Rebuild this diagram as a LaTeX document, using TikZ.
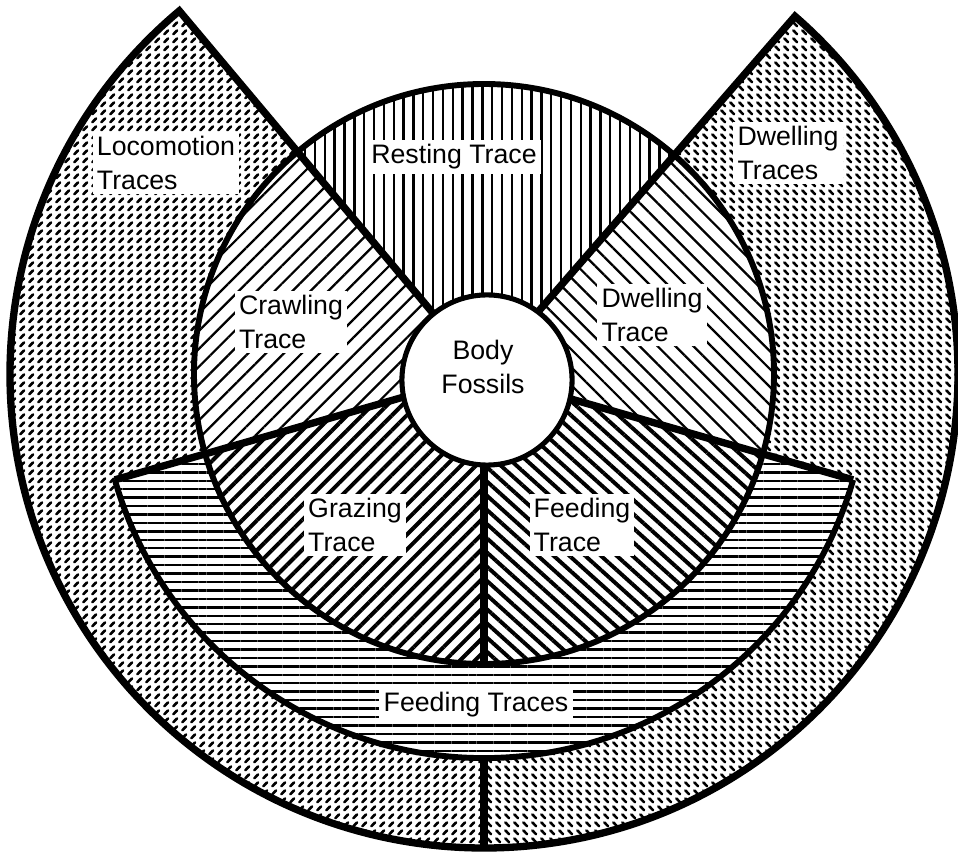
\documentclass[tikz,border=0pt]{standalone}
\usepackage{fontspec}
\setmainfont{Liberation Sans}
\usetikzlibrary{patterns, patterns.meta}

% short slanted dashes for the outer trace groups
\pgfdeclarepattern{
  name=tracedash,
  type=uncolored,
  bottom left={\pgfpoint{0pt}{0pt}},
  top right={\pgfpoint{6.4pt}{5.8pt}},
  tile size={\pgfpoint{6.4pt}{5.8pt}},
  code={
    \pgfsetlinewidth{1.9pt}\pgfsetroundcap
    \pgfpathmoveto{\pgfpoint{1.7pt}{1.4pt}}
    \pgfpathlineto{\pgfpoint{4.3pt}{4.4pt}}
    \pgfusepath{stroke}
  }
}
% the same, mirrored
\pgfdeclarepattern{
  name=tracedashb,
  type=uncolored,
  bottom left={\pgfpoint{0pt}{0pt}},
  top right={\pgfpoint{6.4pt}{5.8pt}},
  tile size={\pgfpoint{6.4pt}{5.8pt}},
  code={
    \pgfsetlinewidth{1.9pt}\pgfsetroundcap
    \pgfpathmoveto{\pgfpoint{1.7pt}{4.4pt}}
    \pgfpathlineto{\pgfpoint{4.3pt}{1.4pt}}
    \pgfusepath{stroke}
  }
}

\begin{document}
\begin{tikzpicture}[
    x=0.025cm, y=0.025cm,
    rim/.style={line width=4.2pt},
    spoke/.style={line width=5.2pt, line join=miter},
    tag/.style={fill=white, inner sep=3pt, align=left,
                font=\fontsize{19}{24}\selectfont},
    restfill/.style={pattern={Lines[angle=90, distance=7pt, line width=1.7pt]}},
    crawlfill/.style={pattern={Lines[angle=45, distance=9pt, line width=1.6pt]}},
    dwellfill/.style={pattern={Lines[angle=-45, distance=9pt, line width=1.6pt]}},
    grazefill/.style={pattern={Lines[angle=45, distance=7.5pt, line width=2.8pt]}},
    feedfill/.style={pattern={Lines[angle=-42, distance=7.5pt, line width=2.8pt]}},
    bandfill/.style={pattern={Lines[angle=0, distance=6pt, line width=1.7pt]}},
    locofill/.style={pattern=tracedash},
    homefill/.style={pattern=tracedashb}
]
  \useasboundingbox (-484,-478) rectangle (474,374);
  \coordinate (ctr) at (0,0);
  \coordinate (tipL) at (130:474);
  \coordinate (tipR) at (49:474);

  % inner ring: single traces
  \fill[restfill] (ctr) -- (49:290) arc[start angle=49, end angle=130, radius=290] -- cycle;
  \fill[crawlfill] (ctr) -- (130:290) arc[start angle=130, end angle=196, radius=290] -- cycle;
  \fill[grazefill] (ctr) -- (196:290) arc[start angle=196, end angle=270, radius=290] -- cycle;
  \fill[feedfill] (ctr) -- (270:290) arc[start angle=270, end angle=344, radius=290] -- cycle;
  \fill[dwellfill] (ctr) -- (-16:290) arc[start angle=-16, end angle=49, radius=290] -- cycle;

  % feeding band
  \fill[bandfill] (196:290) -- (196:384) arc[start angle=196, end angle=344, radius=384]
    -- (344:290) arc[start angle=344, end angle=196, radius=290] -- cycle;

  % outer ring: locomotion and dwelling
  \fill[locofill] (130:290) -- (tipL) arc[start angle=130, end angle=270, radius=474]
    -- (270:384) arc[start angle=270, end angle=196, radius=384]
    -- (196:290) arc[start angle=196, end angle=130, radius=290] -- cycle;
  \fill[homefill] (270:384) -- (270:474) arc[start angle=270, end angle=409, radius=474]
    -- (49:290) arc[start angle=49, end angle=-16, radius=290]
    -- (-16:384) arc[start angle=-16, end angle=-90, radius=384] -- cycle;

  % borders
  \draw[rim] (ctr) circle[radius=290];
  \draw[rim] (196:384) arc[start angle=196, end angle=344, radius=384];
  \draw[spoke] (ctr) -- (tipL) arc[start angle=130, end angle=409, radius=474] -- cycle;
  \draw[spoke] (ctr) -- (196:384);
  \draw[spoke] (ctr) -- (344:384);
  \draw[spoke] (ctr) -- (270:290);
  \draw[spoke] (270:384) -- (270:474);

  \node[circle, draw, line width=3.6pt, fill=white, minimum size=121pt] (body) at (3,-6) {};

  % labels
  \node[tag] (loco) at (-318,211) {Locomotion\\Traces};
  \node[tag] (rest) at (-30,217) {Resting Trace};
  \node[tag] (dwells) at (304,221) {Dwelling\\Traces};
  \node[tag] (crawl) at (-193,52) {Crawling\\Trace};
  \node[tag] (dwell) at (168,59) {Dwelling\\Trace};
  \node[font=\fontsize{19}{24}\selectfont, align=center] (fossil) at (-1,7) {Body\\Fossils};
  \node[tag] (graze) at (-129,-151) {Grazing\\Trace};
  \node[tag] (feed) at (98,-151) {Feeding\\Trace};
  \node[tag] (feeds) at (-8,-331) {Feeding Traces};
\end{tikzpicture}
\end{document}
